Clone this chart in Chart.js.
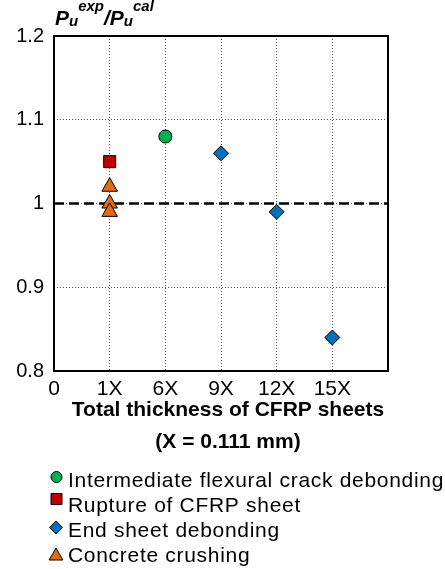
<!DOCTYPE html>
<html>
<head>
<meta charset="utf-8">
<script src="https://cdn.jsdelivr.net/npm/chart.js@4.4.1/dist/chart.umd.min.js"></script>
<style>
  html, body { margin: 0; padding: 0; background: #fff; }
  #wrap { width: 445px; height: 569px; }
</style>
</head>
<body>
<div id="wrap"><canvas id="chart" width="445" height="569"></canvas></div>
<script>
const FONT = '"Liberation Sans", Arial, sans-serif';

// tick labels on the x axis (position 0..6)
const xLabels = ['0', '1X', '6X', '9X', '12X', '15X', ''];

// failure modes
const icdX = [2];
const icdY = [1.08];
const ruptureX = [1];
const ruptureY = [1.05];
const endX = [3, 4, 5];
const endY = [1.06, 0.99, 0.84];
const crushX = [1, 1, 1];
const crushY = [1.02, 1.00, 0.99];

// reference line Pexp/Pcal = 1
const refX = [0, 6];
const refY = [1, 1];

const legendNames = [
    'Intermediate flexural crack debonding',
    'Rupture of CFRP sheet',
    'End sheet debonding',
    'Concrete crushing'
];
const xTitle = ['Total thickness of CFRP sheets', '(X = 0.111 mm)'];

const toPoints = (xs, ys) => xs.map((x, i) => ({x: x, y: ys[i]}));

const decor = {
    id: 'decor',
    beforeDatasetsDraw(chart) {
        const {ctx, chartArea: a} = chart;
        ctx.save();
        ctx.strokeStyle = '#000';
        ctx.lineWidth = 2;
        ctx.strokeRect(a.left, a.top, a.right - a.left, a.bottom - a.top);
        ctx.restore();
    },
    afterDraw(chart) {
        const ctx = chart.ctx;
        ctx.save();
        ctx.fillStyle = '#000';
        ctx.textBaseline = 'alphabetic';

        // y axis title  P_u^exp / P_u^cal
        const big = 'italic bold 21px ' + FONT;
        const small = 'italic bold 15px ' + FONT;
        let x = 55;
        const base = 25;
        const put = (txt, font, dy) => {
            ctx.font = font;
            ctx.fillText(txt, x, base + dy);
            return ctx.measureText(txt).width;
        };
        x += put('P', big, 0);
        x += put('u', small, 1);
        x += put('exp', small, -14);
        x += put('/', big, 0);
        x += put('P', big, 0);
        x += put('u', small, 1);
        put('cal', small, -14);

        // x axis title
        ctx.textAlign = 'center';
        ctx.font = 'bold 21px ' + FONT;
        ctx.fillText(xTitle[0], 228, 416);
        ctx.fillText(xTitle[1], 228, 448);

        // legend
        ctx.textAlign = 'left';
        ctx.font = '21px ' + FONT;
        if ('letterSpacing' in ctx) ctx.letterSpacing = '0.7px';
        const rows = [
            {ds: 0, base: 487, mx: 56.5, my: 477, r: 5.5},
            {ds: 1, base: 512, mx: 56.5, my: 499, r: 7.8},
            {ds: 2, base: 537, mx: 56, my: 527.5, r: 6.5},
            {ds: 3, base: 562, mx: 56, my: 556, r: 8}
        ];
        rows.forEach((row, i) => {
            const d = chart.data.datasets[row.ds];
            ctx.fillStyle = '#000';
            ctx.fillText(legendNames[i], 68, row.base);
            ctx.fillStyle = d.backgroundColor;
            ctx.strokeStyle = '#000';
            ctx.lineWidth = 1;
            Chart.helpers.drawPoint(ctx, {
                pointStyle: d.pointStyle, radius: row.r, rotation: 0, borderWidth: 1
            }, row.mx, row.my);
        });
        ctx.restore();
    }
};

const pointDs = (label, xs, ys, style, color, r) => ({
    type: 'scatter',
    label: label,
    data: toPoints(xs, ys),
    pointStyle: style,
    backgroundColor: color,
    borderColor: '#000',
    borderWidth: 1,
    pointRadius: r,
    pointHoverRadius: r,
    order: 1
});

const config = {
    type: 'scatter',
    data: {
        datasets: [
            pointDs(legendNames[0], icdX, icdY, 'circle', '#00b050', 6.5),
            pointDs(legendNames[1], ruptureX, ruptureY, 'rect', '#c00000', 8.5),
            pointDs(legendNames[2], endX, endY, 'rectRot', '#0070c0', 7.5),
            pointDs(legendNames[3], crushX, crushY, 'triangle', '#e46c0a', 9),
            {
                type: 'line',
                label: 'ref',
                data: toPoints(refX, refY),
                borderColor: '#000',
                borderWidth: 2.5,
                borderDash: [10, 5],
                pointRadius: 0,
                fill: false,
                order: 5
            }
        ]
    },
    options: {
        responsive: false,
        animation: false,
        layout: { padding: { top: 36, right: 57, left: 0, bottom: 0 } },
        scales: {
            x: {
                type: 'linear',
                min: 0,
                max: 6,
                afterFit: (s) => { s.height = 198; },
                grid: { color: '#555', lineWidth: 1, drawTicks: false },
                border: { display: false, dash: [1, 2] },
                ticks: {
                    stepSize: 1,
                    autoSkip: false,
                    maxRotation: 0,
                    padding: 6,
                    color: '#000',
                    font: { family: FONT, size: 21 },
                    callback: (v) => xLabels[v] !== undefined ? xLabels[v] : ''
                }
            },
            y: {
                min: 0.8,
                max: 1.2,
                afterFit: (s) => { s.width = 54; },
                grid: { color: '#555', lineWidth: 1, drawTicks: false },
                border: { display: false, dash: [1, 2] },
                ticks: {
                    stepSize: 0.1,
                    padding: 10,
                    color: '#000',
                    font: { family: FONT, size: 20 },
                    callback: (v) => String(Number(v.toFixed(1)))
                }
            }
        },
        plugins: {
            legend: { display: false },
            tooltip: { enabled: false }
        }
    },
    plugins: [decor]
};

const chart = new Chart(document.getElementById('chart').getContext('2d'), config);
</script>
</body>
</html>
